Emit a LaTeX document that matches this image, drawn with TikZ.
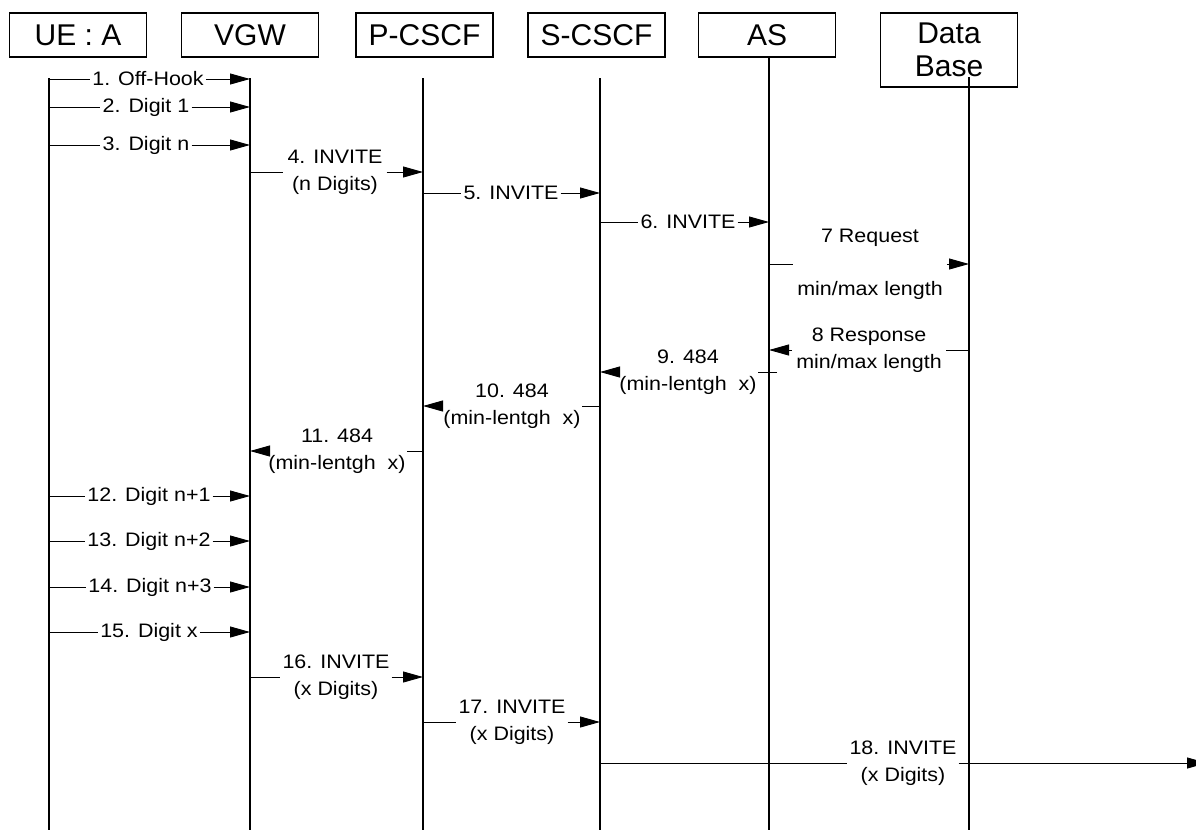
\documentclass[tikz,border=0pt]{standalone}
\usepackage{fontspec}
\setmainfont{Liberation Sans}
\newfontfamily\msgfont[FakeStretch=1.1]{Liberation Sans}
\usetikzlibrary{arrows.meta}

\begin{document}
\begin{tikzpicture}[x=1pt,y=-1pt,
    box/.style={draw,line width=1.3pt,minimum width=137pt,minimum height=44pt,
      inner sep=0pt,align=center,font=\fontsize{30}{33}\selectfont},
    life/.style={line width=1.6pt},
    msg/.style={line width=0.9pt},
    tip/.style={msg,-{Triangle[length=20pt,width=11pt]}},
    lbl/.style={inner xsep=2pt,inner ysep=0pt,align=center,
      font=\msgfont\fontsize{19.5}{27}\selectfont}]
    \useasboundingbox (0,0) rectangle (1196,830);

    % Entidades
    \node[box] (ue) at (78,35) {UE : A};
    \node[box] (vgw) at (250,35) {VGW};
    \node[box] (pc) at (424.5,35) {P-CSCF};
    \node[box] (sc) at (596.5,35) {S-CSCF};
    \node[box] (as) at (767,35) {AS};
    \node[box,minimum height=74pt] (db) at (949,50) {Data\\Base};

    % Lineas de vida
    \coordinate (ue-t) at (49,78);   \coordinate (ue-b) at (49,830);
    \coordinate (vgw-t) at (250,78); \coordinate (vgw-b) at (250,830);
    \coordinate (pc-t) at (423,78);  \coordinate (pc-b) at (423,830);
    \coordinate (sc-t) at (600,78);  \coordinate (sc-b) at (600,830);
    \coordinate (as-t) at (769,57);  \coordinate (as-b) at (769,830);
    \coordinate (db-t) at (969,77);  \coordinate (db-b) at (969,830);
    \foreach \n in {ue,vgw,pc,sc,as,db}
        \draw[life] (\n-t) -- (\n-b);

    % UE -> VGW
    \node[lbl] (m1) at (148,79) {1. Off-Hook};
    \draw[msg] (ue-t |- m1) -- (m1);
    \draw[tip] (m1) -- (vgw-t |- m1);
    \node[lbl] (m2) at (146,107) {2. Digit 1};
    \draw[msg] (ue-t |- m2) -- (m2);
    \draw[tip] (m2) -- (vgw-t |- m2);
    \node[lbl] (m3) at (146,145) {3. Digit n};
    \draw[msg] (ue-t |- m3) -- (m3);
    \draw[tip] (m3) -- (vgw-t |- m3);

    % INVITE hacia AS
    \node[lbl,inner xsep=4pt] (m4) at (335,172) {4. INVITE\\(n Digits)};
    \draw[msg] (vgw-t |- m4) -- (m4);
    \draw[tip] (m4) -- (pc-t |- m4);
    \node[lbl] (m5) at (511,193) {5. INVITE};
    \draw[msg] (pc-t |- m5) -- (m5);
    \draw[tip] (m5) -- (sc-t |- m5);
    \node[lbl] (m6) at (688,222) {6. INVITE};
    \draw[msg] (sc-t |- m6) -- (m6);
    \draw[tip] (m6) -- (as-t |- m6);

    % Consulta a la base de datos
    \node[lbl,inner xsep=4pt] (m7) at (870,264) {7 Request\\[26pt]min/max length};
    \draw[msg] (as-t |- m7) -- (m7);
    \draw[tip] (m7) -- (db-t |- m7);
    \node[lbl,inner xsep=4pt] (m8) at (869,350) {8 Response\\min/max length};
    \draw[msg] (db-t |- m8) -- (m8);
    \draw[tip] (m8) -- (as-t |- m8);

    % Respuestas 484
    \node[lbl,inner xsep=1pt] (m9) at (688,372) {9. 484\\(min-lentgh~~x)};
    \draw[msg] ([xshift=8pt]as-t |- m9) -- (m9);
    \draw[tip] (m9) -- (sc-t |- m9);
    \node[lbl,inner xsep=1pt] (m10) at (512,406) {10. 484\\(min-lentgh~~x)};
    \draw[msg] (sc-t |- m10) -- (m10);
    \draw[tip] (m10) -- (pc-t |- m10);
    \node[lbl,inner xsep=1pt] (m11) at (337,451) {11. 484\\(min-lentgh~~x)};
    \draw[msg] (pc-t |- m11) -- (m11);
    \draw[tip] (m11) -- (vgw-t |- m11);

    % Digitos restantes
    \node[lbl] (m12) at (149,496) {12. Digit n+1};
    \draw[msg] (ue-t |- m12) -- (m12);
    \draw[tip] (m12) -- (vgw-t |- m12);
    \node[lbl] (m13) at (149,541) {13. Digit n+2};
    \draw[msg] (ue-t |- m13) -- (m13);
    \draw[tip] (m13) -- (vgw-t |- m13);
    \node[lbl] (m14) at (150,587) {14. Digit n+3};
    \draw[msg] (ue-t |- m14) -- (m14);
    \draw[tip] (m14) -- (vgw-t |- m14);
    \node[lbl] (m15) at (149,632) {15. Digit x};
    \draw[msg] (ue-t |- m15) -- (m15);
    \draw[tip] (m15) -- (vgw-t |- m15);

    % INVITE final
    \node[lbl] (m16) at (336,677) {16. INVITE\\(x Digits)};
    \draw[msg] (vgw-t |- m16) -- (m16);
    \draw[tip] (m16) -- (pc-t |- m16);
    \node[lbl] (m17) at (512,722) {17. INVITE\\(x Digits)};
    \draw[msg] (pc-t |- m17) -- (m17);
    \draw[tip] (m17) -- (sc-t |- m17);
    \coordinate (fin) at (1207,763);
    \node[lbl] (m18) at (903,763) {18. INVITE\\(x Digits)};
    \draw[msg] (sc-t |- m18) -- (m18);
    \draw[tip] (m18) -- (fin);
\end{tikzpicture}
\end{document}
